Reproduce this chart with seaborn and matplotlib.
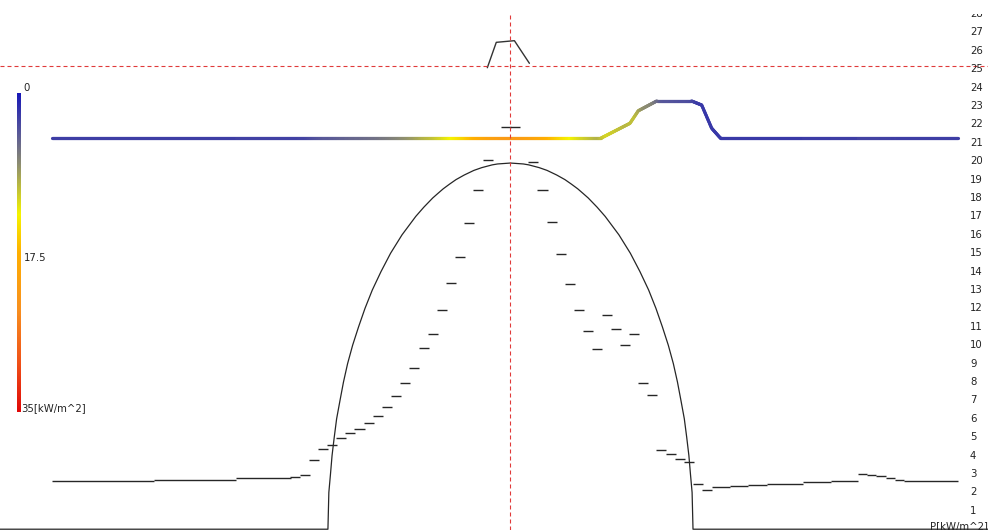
import numpy as np
import pandas as pd
import matplotlib
matplotlib.use("Agg")
import matplotlib.pyplot as plt
from matplotlib.collections import LineCollection
from matplotlib.colors import LinearSegmentedColormap, Normalize
import seaborn as sns

# ---- measured heat-flux profile, sampled on a half-step grid ----
left_pos = [-23.5, -22.5, -21.5, -20.5, -19.5, -18.5, -17.5, -16.5, -15.5, -14.5, -13.5,
            -12.5, -11.5, -10.5, -9.5, -8.5, -7.5, -6.5, -5.5, -4.5, -3.5, -2.5]
left_vals = [2.84, 2.95, 3.76, 4.36, 4.58, 4.96, 5.23, 5.45, 5.77, 6.15, 6.64,
             7.24, 7.95, 8.76, 9.85, 10.61, 11.91, 13.38, 14.79, 16.64, 18.43, 20.07]
center_pos = [-0.5, 0.5]
center_vals = [21.86, 21.86]
right_pos = [2.5, 3.5, 4.5, 5.5, 6.5, 7.5, 8.5, 9.5, 10.5, 11.5,
             12.5, 13.5, 14.5, 15.5, 16.5, 17.5, 18.5, 19.5, 20.5, 21.5]
right_vals = [19.96, 18.43, 16.70, 14.96, 13.33, 11.91, 10.77, 9.79, 11.64, 10.88,
              10.01, 10.61, 7.95, 7.29, 4.30, 4.09, 3.82, 3.65, 2.46, 2.13]

# background stretches outside the hot zone: start, end, value
base_start = [-50.1, -39.0, -30.0, 22.0, 24.0, 26.0, 28.0, 32.0, 35.0,
              38.0, 39.0, 40.0, 41.0, 42.0, 43.0]
base_end = [-39.0, -30.0, -24.0, 24.0, 26.0, 28.0, 32.0, 35.0, 38.0,
            39.0, 40.0, 41.0, 42.0, 43.0, 48.9]
base_vals = [2.62, 2.70, 2.78, 2.29, 2.35, 2.40, 2.46, 2.54, 2.62,
             3.01, 2.95, 2.89, 2.78, 2.67, 2.62]

# peak reading above the limit
peak_u = [-2.53, -1.55, 0.43, 2.07]
peak_v = [25.08, 26.46, 26.55, 25.32]

# envelope: height and half-width, plus the ground level either side
env_height = [0, 1, 2, 3, 4, 5, 6, 7, 8, 9, 10, 11, 12, 13, 14, 15, 16, 17, 17.5,
              18, 18.25, 18.5, 18.75, 19, 19.25, 19.5, 19.65, 19.8, 19.85, 19.9]
env_half = [19.95, 19.9, 19.85, 19.67, 19.5, 19.26, 19.0, 18.63, 18.25, 17.8, 17.25,
            16.6, 15.9, 15.1, 14.15, 13.1, 11.85, 10.35, 9.47,
            8.5, 7.93, 7.35, 6.67, 5.95, 5.05, 4.0, 3.14, 2.0, 1.41, 0.0]
ground_left, ground_right = -57.0, 53.0

# coloured band line
band_u = [-50.1, 10.0, 13.06, 13.97, 15.98, 19.8, 20.9, 21.99, 22.9, 48.9]
band_v = [21.28, 21.28, 22.06, 22.74, 23.27, 23.27, 23.05, 21.79, 21.28, 21.28]

limit_v = 25.17
axis_u = 0.0
tick_vals = list(range(1, 29))
scale_labels = ["0", "17.5", "35[kW/m^2]"]
scale_max = 35.0

# ---- styling ----
sns.set_theme(style="white")
plt.rcParams['font.family'] = ['DejaVu Sans']

heat_cmap = LinearSegmentedColormap.from_list(
    "heat", [(0.00, "#1818b8"), (0.12, "#56569a"), (0.22, "#8c8c72"),
             (0.38, "#f5f500"), (0.50, "#ffb000"), (0.68, "#f89020"),
             (0.85, "#f05018"), (1.00, "#e00808")])
norm = Normalize(0, scale_max)

W, H = 988, 530
fig = plt.figure(figsize=(W / 100, H / 100), dpi=100)
fig.patch.set_facecolor("white")
ax = fig.add_axes([0, 0, 1, 516 / 530])
ax.set_xlim(-55.79, 52.19)
ax.set_ylim(-0.043, 28.0)
ax.axis("off")

ink = "#262626"

# envelope curve
env_u = [ground_left] + [-w for w in env_half] + [w for w in env_half[::-1]][1:] + [ground_right]
env_v = [0.0] + env_height + env_height[::-1][1:] + [0.0]
env_df = pd.DataFrame({"u": env_u, "v": env_v})
sns.lineplot(data=env_df, x="u", y="v", sort=False, estimator=None, ax=ax,
             color=ink, lw=0.9)

# peak reading
peak_df = pd.DataFrame({"u": peak_u, "v": peak_v})
sns.lineplot(data=peak_df, x="u", y="v", sort=False, estimator=None, ax=ax,
             color="#333333", lw=1.0)

# profile dashes
half = 0.55
dash_pos = np.array(left_pos + center_pos + right_pos)
dash_vals = np.array(left_vals + center_vals + right_vals)
ax.hlines(dash_vals, dash_pos - half, dash_pos + half, color=ink, lw=1.0)
ax.hlines(base_vals, base_start, base_end, color=ink, lw=1.0)

# coloured band, coloured by the local profile value
knots = sorted([(p, v) for p, v in zip(dash_pos, dash_vals)] +
               [(s, v) for s, v in zip(base_start, base_vals)] +
               [(e, v) for e, v in zip(base_end, base_vals)])
knot_u = np.array([k[0] for k in knots])
knot_h = np.array([k[1] for k in knots])
fine_u = np.linspace(band_u[0], band_u[-1], 1500)
fine_v = np.interp(fine_u, band_u, band_v)
fine_h = np.interp(fine_u, knot_u, knot_h)
pts = np.column_stack([fine_u, fine_v]).reshape(-1, 1, 2)
segs = np.concatenate([pts[:-1], pts[1:]], axis=1)
lc = LineCollection(segs, cmap=heat_cmap, norm=norm, linewidths=2.3, capstyle="round")
lc.set_array((fine_h[:-1] + fine_h[1:]) / 2)
ax.add_collection(lc)

# limit lines
red = "#e03a3a"
ax.axhline(limit_v, color=red, lw=0.8, ls=(0, (3.6, 2.7)))
ax.axvline(axis_u, color=red, lw=0.8, ls=(0, (3.6, 2.7)))

# value scale on the right
lab_u = 50.22
for t in tick_vals:
    ax.text(lab_u, t, str(t), ha="left", va="center", fontsize=7.3,
            color="#222222", clip_on=True)
ax.text(45.9, 0.45, "P[kW/m^2]", ha="left", va="top", fontsize=7.3, color="#222222")

# colour scale on the left
cax = fig.add_axes([16.7 / W, 1 - 411.7 / H, 4.0 / W, 319.0 / H])
grad = np.linspace(0, scale_max, 256)[:, None]
cax.imshow(grad, aspect="auto", cmap=heat_cmap, norm=norm, origin="upper")
cax.axis("off")
fig.text(23 / W, 1 - 93 / H, scale_labels[0], ha="left", va="bottom", fontsize=7.3, color="#222222")
fig.text(24 / W, 1 - 258 / H, scale_labels[1], ha="left", va="center", fontsize=7.3, color="#222222")
fig.text(21 / W, 1 - 413 / H, scale_labels[2], ha="left", va="bottom", fontsize=7.3, color="#222222")

fig.savefig("out.png", dpi=100, facecolor="white")
